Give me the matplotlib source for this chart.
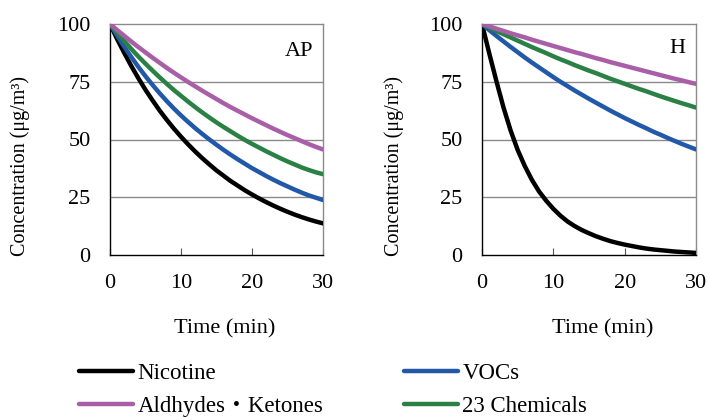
import matplotlib
matplotlib.use("Agg")
import matplotlib.pyplot as plt
from matplotlib.lines import Line2D

plt.rcParams['font.family'] = ['Liberation Serif', 'Noto Sans CJK JP', 'DejaVu Sans']

time = list(range(0, 31))

ap_nicotine = [100, 93.5, 87.5, 81.8, 76.5, 71.5, 66.9, 62.5, 58.5, 54.7, 51.2, 47.9, 44.8, 41.9,
               39.2, 36.6, 34.3, 32, 30, 28, 26.2, 24.5, 22.9, 21.4, 20, 18.7, 17.5, 16.4, 15.4,
               14.5, 13.7]
ap_vocs = [100, 95, 90.2, 85.7, 81.4, 77.4, 73.6, 70, 66.6, 63.4, 60.4, 57.6, 54.9, 52.4, 50,
           47.7, 45.5, 43.4, 41.4, 39.5, 37.6, 35.9, 34.2, 32.6, 31.1, 29.7, 28.3, 27, 25.8,
           24.8, 23.8]
ap_ald = [100, 97.4, 94.9, 92.4, 90, 87.7, 85.4, 83.2, 81, 78.9, 76.9, 74.9, 73, 71.1, 69.3,
          67.5, 65.7, 64, 62.4, 60.8, 59.2, 57.7, 56.2, 54.7, 53.3, 51.9, 50.6, 49.3, 48, 46.8,
          45.7]
ap_23 = [100, 96.3, 92.7, 89.2, 85.9, 82.8, 79.8, 76.9, 74.1, 71.4, 68.9, 66.4, 64, 61.7, 59.5,
         57.4, 55.4, 53.5, 51.6, 49.8, 48.1, 46.5, 44.9, 43.4, 41.9, 40.5, 39.2, 37.9, 36.8,
         35.8, 35]

h_nicotine = [100, 87.5, 75.5, 64, 54, 45.5, 38.5, 32.5, 27.5, 23.5, 20, 17, 14.5, 12.5, 10.8,
              9.4, 8.1, 7, 6, 5.2, 4.5, 3.9, 3.3, 2.8, 2.4, 2.1, 1.8, 1.5, 1.3, 1.1, 0.9]
h_vocs = [100, 97.4, 94.9, 92.5, 90.1, 87.8, 85.5, 83.3, 81.2, 79.1, 77, 75, 73.1, 71.2, 69.4,
          67.6, 65.9, 64.2, 62.5, 60.9, 59.3, 57.8, 56.3, 54.9, 53.4, 52.1, 50.7, 49.4, 48.1,
          46.9, 45.7]
h_ald = [100, 99, 98, 97, 96, 95.1, 94.2, 93.2, 92.3, 91.4, 90.5, 89.6, 88.7, 87.8, 87, 86.1,
         85.2, 84.4, 83.5, 82.7, 81.9, 81.1, 80.3, 79.5, 78.7, 77.9, 77.1, 76.3, 75.6, 74.8,
         74.1]
h_23 = [100, 98.5, 97, 95.6, 94.2, 92.8, 91.4, 90, 88.7, 87.4, 86, 84.7, 83.5, 82.2, 81, 79.8,
        78.7, 77.5, 76.3, 75.2, 74.1, 73, 71.9, 70.9, 69.8, 68.7, 67.7, 66.7, 65.7, 64.8, 63.8]

series_names = ['Nicotine', 'VOCs', 'Aldhydes\u30fbKetones', '23 Chemicals']
colors = {'Nicotine': '#000000', 'VOCs': '#2159A8',
          'Aldhydes\u30fbKetones': '#A95FA8', '23 Chemicals': '#2A8045'}

yticks = [0, 25, 50, 75, 100]
xticks = [0, 10, 20, 30]
FS = 16

W, H = 709, 417
fig = plt.figure(figsize=(W / 100, H / 100), dpi=100)

def make_ax(left_px, width_px):
    ax = fig.add_axes([left_px / W, (H - 255) / H, width_px / W, 231 / H])
    ax.set_xlim(0, 30)
    ax.set_ylim(0, 100)
    ax.set_xticks(xticks)
    ax.set_yticks(yticks)
    ax.tick_params(axis='x', direction='in', length=5, width=0.8, color='#555555',
                   labelsize=FS, pad=14)
    ax.tick_params(axis='y', length=0, labelsize=FS, pad=14)
    for y in [25, 50, 75]:
        ax.axhline(y, color='#8a8a8a', lw=1.0, zorder=1)
    ax.spines['top'].set_color('#8a8a8a')
    ax.spines['right'].set_color('#8a8a8a')
    ax.spines['left'].set_color('#000000')
    ax.spines['bottom'].set_color('#000000')
    for s in ax.spines.values():
        s.set_linewidth(1.0)
    return ax

ax1 = make_ax(110, 213)
ax2 = make_ax(482, 214)

draw_order = [('Nicotine', 0), ('VOCs', 1), ('23 Chemicals', 3), ('Aldhydes\u30fbKetones', 2)]
ap_data = [ap_nicotine, ap_vocs, ap_ald, ap_23]
h_data = [h_nicotine, h_vocs, h_ald, h_23]

for name, i in draw_order:
    ax1.plot(time, ap_data[i], color=colors[name], lw=3.2, solid_capstyle='round', zorder=3)
    ax2.plot(time, h_data[i], color=colors[name], lw=3.2, solid_capstyle='round', zorder=3)

ax1.text(0.955, 0.88, 'AP', transform=ax1.transAxes, ha='right', va='center', fontsize=FS)
ax2.text(0.95, 0.895, 'H', transform=ax2.transAxes, ha='right', va='center', fontsize=FS)

fig.text(225 / W, 1 - 329 / H, 'Time (min)', ha='center', va='center', fontsize=FS)
fig.text(603 / W, 1 - 329 / H, 'Time (min)', ha='center', va='center', fontsize=FS)
fig.text(20 / W, 1 - 166 / H, 'Concentration (\u03bcg/m\u00b3)', rotation=90,
         ha='center', va='center', fontsize=14.5)
fig.text(394 / W, 1 - 166 / H, 'Concentration (\u03bcg/m\u00b3)', rotation=90,
         ha='center', va='center', fontsize=14.5)

def handle(name):
    return Line2D([], [], color=colors[name], lw=3.2, solid_capstyle='round')

leg_kw = dict(frameon=False, fontsize=16.5, handlelength=2.35, handletextpad=0.2,
              labelspacing=0.5, borderaxespad=0, borderpad=0, loc='upper left')
l1 = fig.legend([handle(series_names[0]), handle(series_names[2])],
                [series_names[0], series_names[2]],
                bbox_to_anchor=(79 / W, 1 - 363 / H), **leg_kw)
l2 = fig.legend([handle(series_names[1]), handle(series_names[3])],
                [series_names[1], series_names[3]],
                bbox_to_anchor=(404 / W, 1 - 363 / H), **leg_kw)

fig.savefig('out.png', dpi=100)
